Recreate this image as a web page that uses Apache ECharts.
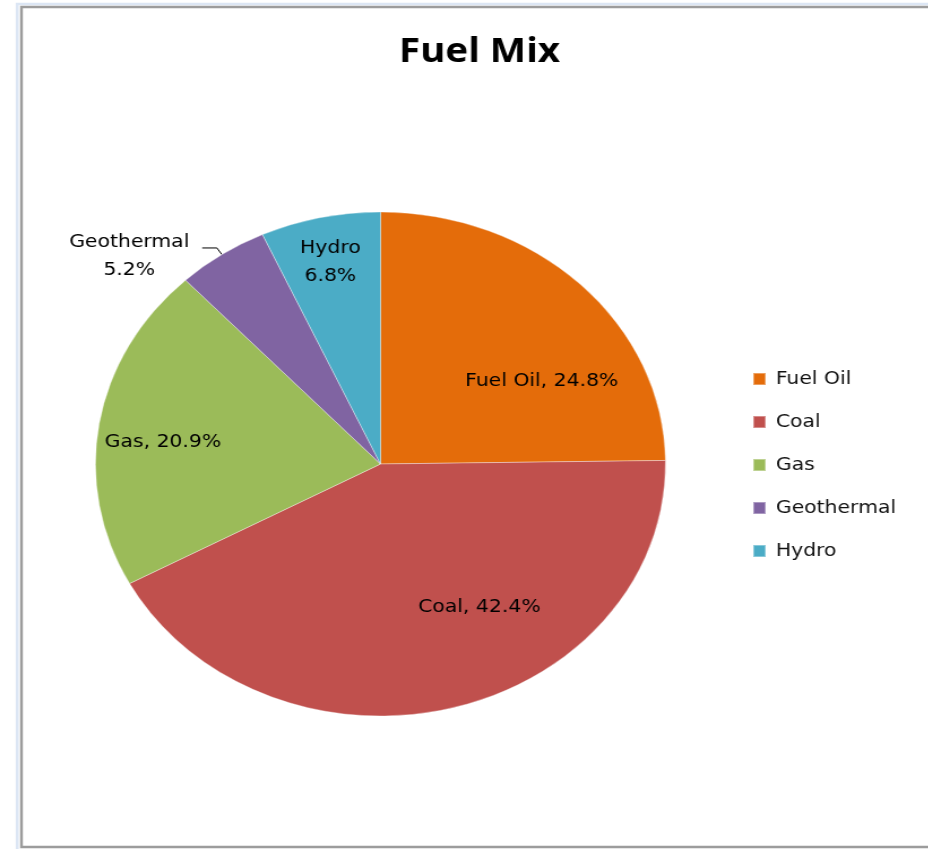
<!DOCTYPE html>
<html>
<head>
<meta charset="utf-8">
<script src="https://cdn.jsdelivr.net/npm/echarts@6/dist/echarts.min.js"></script>
<style>
html,body{margin:0;padding:0;background:#fff;overflow:hidden;}
#wrap{width:928px;height:849px;overflow:hidden;position:relative;}
#chart{position:absolute;left:0;top:0;height:849px;transform-origin:0 0;}
</style>
</head>
<body>
<div id="wrap"><div id="chart"></div></div>
<script>
// ---- data ----
const titleText = 'Fuel Mix';
const categories = ['Fuel Oil', 'Coal', 'Gas', 'Geothermal', 'Hydro'];
const shares = [24.8, 42.4, 20.9, 5.2, 6.8];
const colors = ['#E46C0A', '#C0504D', '#9BBB59', '#8064A2', '#4BACC6'];
const stackedLabel = [false, false, false, true, true];
const outsideLabel = [false, false, false, true, false];

// ---- layout (presentation only) ----
const SX = 1.131; // horizontal stretch of the reference picture
const W = 928 / SX;
const chartEl = document.getElementById('chart');
chartEl.style.width = W + 'px';
chartEl.style.transform = 'scaleX(' + SX + ')';
const labelOffsets = [[52, 9.5], [55, 18], [-65, -1], null, [-17, -76]];

const chart = echarts.init(chartEl, null, {renderer: 'canvas'});
const font = 'DejaVu Sans';

chart.setOption({
  animation: false,
  backgroundColor: '#fff',
  graphic: [
    {type: 'rect', silent: true, shape: {x: 15.2, y: 4, width: 1000, height: 1000},
     style: {fill: 'none', stroke: '#dce6f4', lineWidth: 2.6}},
    {type: 'rect', silent: true, shape: {x: 19.0, y: 7, width: 1000, height: 840},
     style: {fill: 'none', stroke: '#9c9c9c', lineWidth: 2.4}}
  ],
  title: {
    text: titleText,
    left: 419, top: 30, textAlign: 'center',
    textStyle: {fontFamily: 'Open Sans', fontWeight: 'bold', fontSize: 34, color: '#000'}
  },
  legend: {
    orient: 'vertical',
    left: 665, top: 369,
    padding: 0,
    itemWidth: 11, itemHeight: 12, itemGap: 23,
    icon: 'rect',
    data: categories,
    textStyle: {fontFamily: font, fontSize: 18, lineHeight: 20, color: '#111', padding: [0, 0, 0, 4]}
  },
  series: [{
    type: 'pie',
    center: [380.5 / SX, 464],
    radius: 252,
    startAngle: 90,
    clockwise: true,
    avoidLabelOverlap: false,
    emphasis: {disabled: true},
    itemStyle: {borderColor: 'rgba(255,255,255,0.35)', borderWidth: 1},
    label: {
      fontFamily: font, fontSize: 18, lineHeight: 28, color: '#000',
      formatter: function (p) {
        const v = shares[p.dataIndex].toFixed(1) + '%';
        if (outsideLabel[p.dataIndex]) return '{c|' + p.name + '}\n{c|' + v + '}';
        return stackedLabel[p.dataIndex] ? p.name + '\n' + v : p.name + ', ' + v;
      },
      rich: {c: {fontFamily: font, fontSize: 18, lineHeight: 28, color: '#000', width: 111, align: 'center'}}
    },
    labelLine: {show: false},
    labelLayout: function (params) {
      const o = labelOffsets[params.dataIndex];
      return o ? {dx: o[0], dy: o[1]} : {};
    },
    data: categories.map(function (name, i) {
      const item = {name: name, value: shares[i], itemStyle: {color: colors[i]}};
      if (outsideLabel[i]) {
        item.label = {position: 'outside', distanceToLabelLine: 9, padding: [16, 0, 0, 0]};
        item.labelLine = {show: true, length: 8, length2: 13, lineStyle: {color: '#000', width: 1}};
      } else {
        item.label = {position: 'inside'};
      }
      return item;
    })
  }]
});
</script>
</body>
</html>
